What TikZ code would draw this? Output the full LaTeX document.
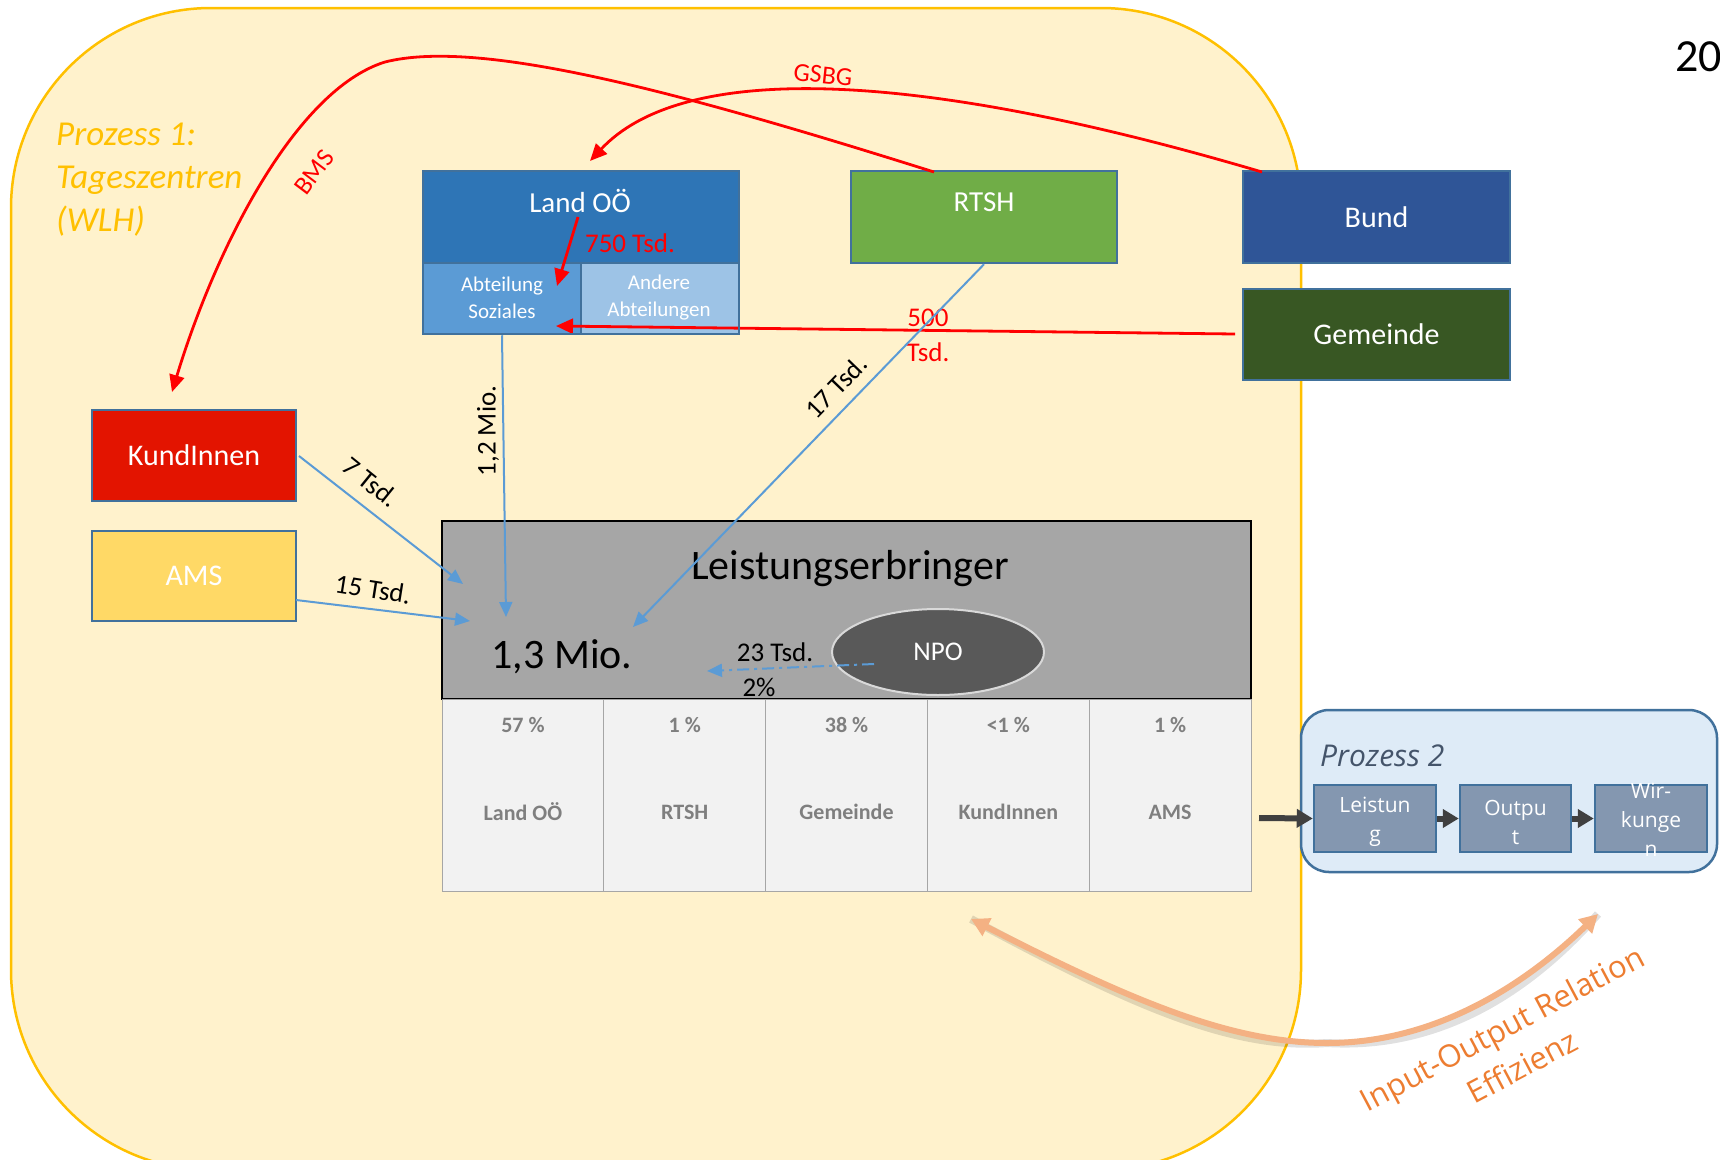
\documentclass[tikz,border=0pt]{standalone}
\usepackage{fontspec}
\setmainfont{Carlito}
\newfontfamily\osans{Open Sans}
\usetikzlibrary{arrows.meta,shapes.geometric}
\definecolor{ybg}{HTML}{FFF2CC}
\definecolor{yline}{HTML}{FFC000}
\definecolor{bord}{HTML}{41719C}
\definecolor{cLand}{HTML}{2E75B6}
\definecolor{cAbt}{HTML}{5B9BD5}
\definecolor{cAnd}{HTML}{9DC3E6}
\definecolor{cRtsh}{HTML}{70AD47}
\definecolor{cBund}{HTML}{2F5597}
\definecolor{cGem}{HTML}{385723}
\definecolor{cKund}{HTML}{E31400}
\definecolor{cAms}{HTML}{FFD966}
\definecolor{cLe}{HTML}{A6A6A6}
\definecolor{cNpo}{HTML}{595959}
\definecolor{cTab}{HTML}{F2F2F2}
\definecolor{cTabTxt}{HTML}{7F7F7F}
\definecolor{cP2}{HTML}{DEEBF7}
\definecolor{cP2txt}{HTML}{44546A}
\definecolor{cSub}{HTML}{8497B0}
\definecolor{cDark}{HTML}{404040}
\definecolor{cOr}{HTML}{F4B183}
\definecolor{cOrTxt}{HTML}{ED7D31}
\definecolor{cRed}{HTML}{FF0000}
\definecolor{cBlue}{HTML}{5B9BD5}
\newcommand\myfs[2]{\fontsize{#1}{#2}\selectfont}
\begin{document}
\begin{tikzpicture}[x=1pt,y=-1pt,
  box/.style={rectangle, draw=bord, line width=2.5pt, inner sep=0pt, text=white},
  txt/.style={inner sep=0pt, align=center},
  redarr/.style={draw=cRed, line width=2.8pt, -{Triangle[length=17pt,width=15pt]}},
  bluearr/.style={draw=cBlue, line width=2pt, -{Triangle[length=15pt,width=13pt]}},
  darkarr/.style={draw=cDark, line width=6pt, -{Triangle[length=16pt,width=18pt]}},
  cell/.style={rectangle, draw=cLe, line width=1pt, fill=cTab, minimum width=161.8, minimum height=192, inner sep=0pt},
  celltxt/.style={inner sep=0pt, text=cTabTxt, font={\myfs{22}{26}\bfseries}},
  sub/.style={rectangle, draw=bord, line width=2.5pt, fill=cSub, minimum height=67, inner sep=0pt},
  subtxt/.style={inner sep=0pt, align=center, text=white, font={\osans\myfs{21}{29}}}
]
\useasboundingbox (0,0) rectangle (1720,1159);
\fill[white] (0,0) rectangle (1720,1159);
% Prozess 1 background
\draw[fill=ybg, draw=yline, line width=2.5pt, rounded corners=200pt] (11,8) rectangle (1301,1170);
\node[txt, align=left, text=yline, font={\myfs{35}{43}\itshape}] (p1) at (56,180) [anchor=west] {Prozess 1:\\Tageszentren\\(WLH)};
\node[txt, font={\myfs{46}{50}}] (yr) at (1675,57) [anchor=west] {20};

% Land OOe
\node[box, fill=cLand, minimum width=316, minimum height=92] (landtop) at (581,217) {};
\node[box, fill=cAbt, minimum width=158, minimum height=71] (abt) at (502,298.5) {};
\node[box, fill=cAnd, minimum width=158, minimum height=71] (andere) at (660,298.5) {};
\node[txt, text=white, font={\myfs{29}{35}}] (landtxt) at (580,201) {Land OÖ};
\node[txt, text=white, font={\myfs{21}{27}}] (abttxt) at (502,298) {Abteilung\\Soziales};
\node[txt, text=white, font={\myfs{21}{27}}] (andtxt) at (659,298) {Andere\\Abteilungen};

% other funders
\node[box, fill=cRtsh, minimum width=266, minimum height=92] (rtsh) at (984,217) {};
\node[txt, text=white, font={\myfs{29}{35}}] (rtshtxt) at (984,202) {RTSH};
\node[box, fill=cBund, minimum width=267, minimum height=92, font={\myfs{30}{36}}] (bund) at (1376.5,217) {Bund};
\node[box, fill=cGem, minimum width=267, minimum height=91, font={\myfs{30}{36}}] (gem) at (1376.5,334.5) {Gemeinde};
\node[box, fill=cKund, minimum width=204, minimum height=91, font={\myfs{30}{36}}] (kund) at (194,455.5) {KundInnen};
\node[box, fill=cAms, minimum width=204, minimum height=90, font={\myfs{30}{36}}] (ams) at (194,576) {AMS};

% Leistungserbringer
\node[rectangle, draw=black, line width=2.5pt, fill=cLe, minimum width=809, minimum height=178, inner sep=0pt] (le) at (846.5,610) {};
\node[txt, font={\myfs{42}{48}}] (letxt) at (850,569) {Leistungserbringer};
\node[txt, font={\myfs{42}{48}}] (mio) at (562,657) {1,3 Mio.};
\node[ellipse, draw=white!85!black, line width=2pt, fill=cNpo, minimum width=212, minimum height=86, inner sep=0pt, text=white, font={\myfs{27}{32}}] (npo) at (938,652) {NPO};
\node[txt, font={\myfs{27}{32}}] (l23) at (775,652) {23 Tsd.};
\node[txt, font={\myfs{27}{32}}] (l2p) at (759,687) {2\%};

% table
\foreach \i/\p/\n in {1/57 \%/Land OÖ, 2/1 \%/RTSH, 3/38 \%/Gemeinde, 4/<1 \%/KundInnen, 5/1 \%/AMS}{
  \node[cell] (cell\i) at ({442+161.8*(\i-0.5)},795) {};
  \node[celltxt] (pc\i) at ({442+161.8*(\i-0.5)},725) {\p};
  \node[celltxt] (nm\i) at ({442+161.8*(\i-0.5)},812) {\n};
}

% Prozess 2
\node[rectangle, rounded corners=28pt, draw=bord, line width=2.5pt, fill=cP2, minimum width=416, minimum height=162, inner sep=0pt] (p2) at (1509,791) {};
\node[txt, text=cP2txt, font={\osans\myfs{30}{36}\itshape}, anchor=west] (p2txt) at (1320,756) {Prozess 2};
\node[sub, minimum width=122] (lei2) at (1375,818.5) {};
\node[sub, minimum width=111] (out2) at (1515.5,818.5) {};
\node[sub, minimum width=112] (wirk2) at (1651,818.5) {};
\node[subtxt] (lei2t) at (1375,822) {Leistun\\g};
\node[subtxt] (out2t) at (1515.5,822) {Outpu\\t};
\node[subtxt] (wirk2t) at (1651,820) {Wir-\\kunge\\n};
\coordinate (p2in) at (1259,818);
\draw[darkarr] (p2in) -- (lei2.west);
\draw[darkarr] (lei2.east) -- (out2.west);
\draw[darkarr] (out2.east) -- (wirk2.west);

% red connectors
\coordinate (bmsS) at (934,172);
\coordinate (bmsE) at (172,392);
\draw[redarr] (bmsS) .. controls (680,92) and (480,38) .. (385,62) .. controls (295,90) and (215,250) .. (bmsE);
\node[txt, text=cRed, rotate=53, font={\myfs{26}{30}}] (bms) at (314,172) {BMS};
\coordinate (gsS) at (1262,172);
\coordinate (gsE) at (590,161);
\draw[redarr] (gsS) .. controls (900,65) and (680,65) .. (gsE);
\node[txt, text=cRed, rotate=-6, font={\myfs{26}{30}}] (gsbg) at (823,75) {GSBG};
\coordinate (gemS) at (1235,334);
\coordinate (gemE) at (556,326);
\draw[redarr] (gemS) -- (gemE);
\node[txt, text=cRed, font={\myfs{27}{35}}] (l500) at (928,335) {500\\Tsd.};
\coordinate (l750S) at (578,217);
\coordinate (l750E) at (557,286);
\draw[redarr] (l750S) -- (l750E);
\node[txt, text=cRed, font={\myfs{27}{32}}] (l750) at (630,243) {750 Tsd.};

% blue connectors
\coordinate (b1E) at (506,617);
\draw[bluearr] (abt.south) -- (b1E);
\node[txt, rotate=90, font={\myfs{27}{32}}] (l12) at (488,431) {1,2 Mio.};
\coordinate (b2E) at (633,627);
\draw[bluearr] (rtsh.south) -- (b2E);
\node[txt, rotate=46, font={\myfs{27}{32}}] (l17) at (836,387) {17 Tsd.};
\coordinate (b3S) at (299,456);
\coordinate (b3E) at (463,584);
\draw[bluearr] (b3S) -- (b3E);
\node[txt, rotate=-39, font={\myfs{27}{32}}] (l7) at (371,482) {7 Tsd.};
\coordinate (b4S) at (296,600);
\coordinate (b4E) at (470,621);
\draw[bluearr] (b4S) -- (b4E);
\node[txt, rotate=-9, font={\myfs{27}{32}}] (l15) at (373,589) {15 Tsd.};
\coordinate (npoS) at (874,664);
\coordinate (npoE) at (707,671);
\draw[draw=cBlue, line width=2pt, dash pattern=on 12pt off 5pt on 3pt off 5pt, -{Triangle[length=15pt,width=13pt]}] (npoS) -- (npoE);

% outer border of Land box
\draw[draw=bord, line width=2.5pt] (423,171) rectangle (739,334);

% Input-Output arrow
\coordinate (io1) at (971,919);
\coordinate (iom) at (1327,1043);
\coordinate (io2) at (1598,914);
\draw[black, opacity=0.12, line width=8pt, shift={(4pt,-7pt)}] (io1) .. controls (1130,1000) and (1230,1043) .. (iom) .. controls (1440,1043) and (1530,980) .. (io2);
\draw[draw=cOr, line width=6pt, {Triangle[length=18pt,width=19pt]}-{Triangle[length=18pt,width=19pt]}] (io1) .. controls (1130,1000) and (1230,1043) .. (iom) .. controls (1440,1043) and (1530,980) .. (io2);
\node[txt, rotate=28, text=cOrTxt, font={\osans\myfs{31}{43}}] (iotxt) at (1512,1047) {Input-Output Relation\\Effizienz};
\end{tikzpicture}
\end{document}
